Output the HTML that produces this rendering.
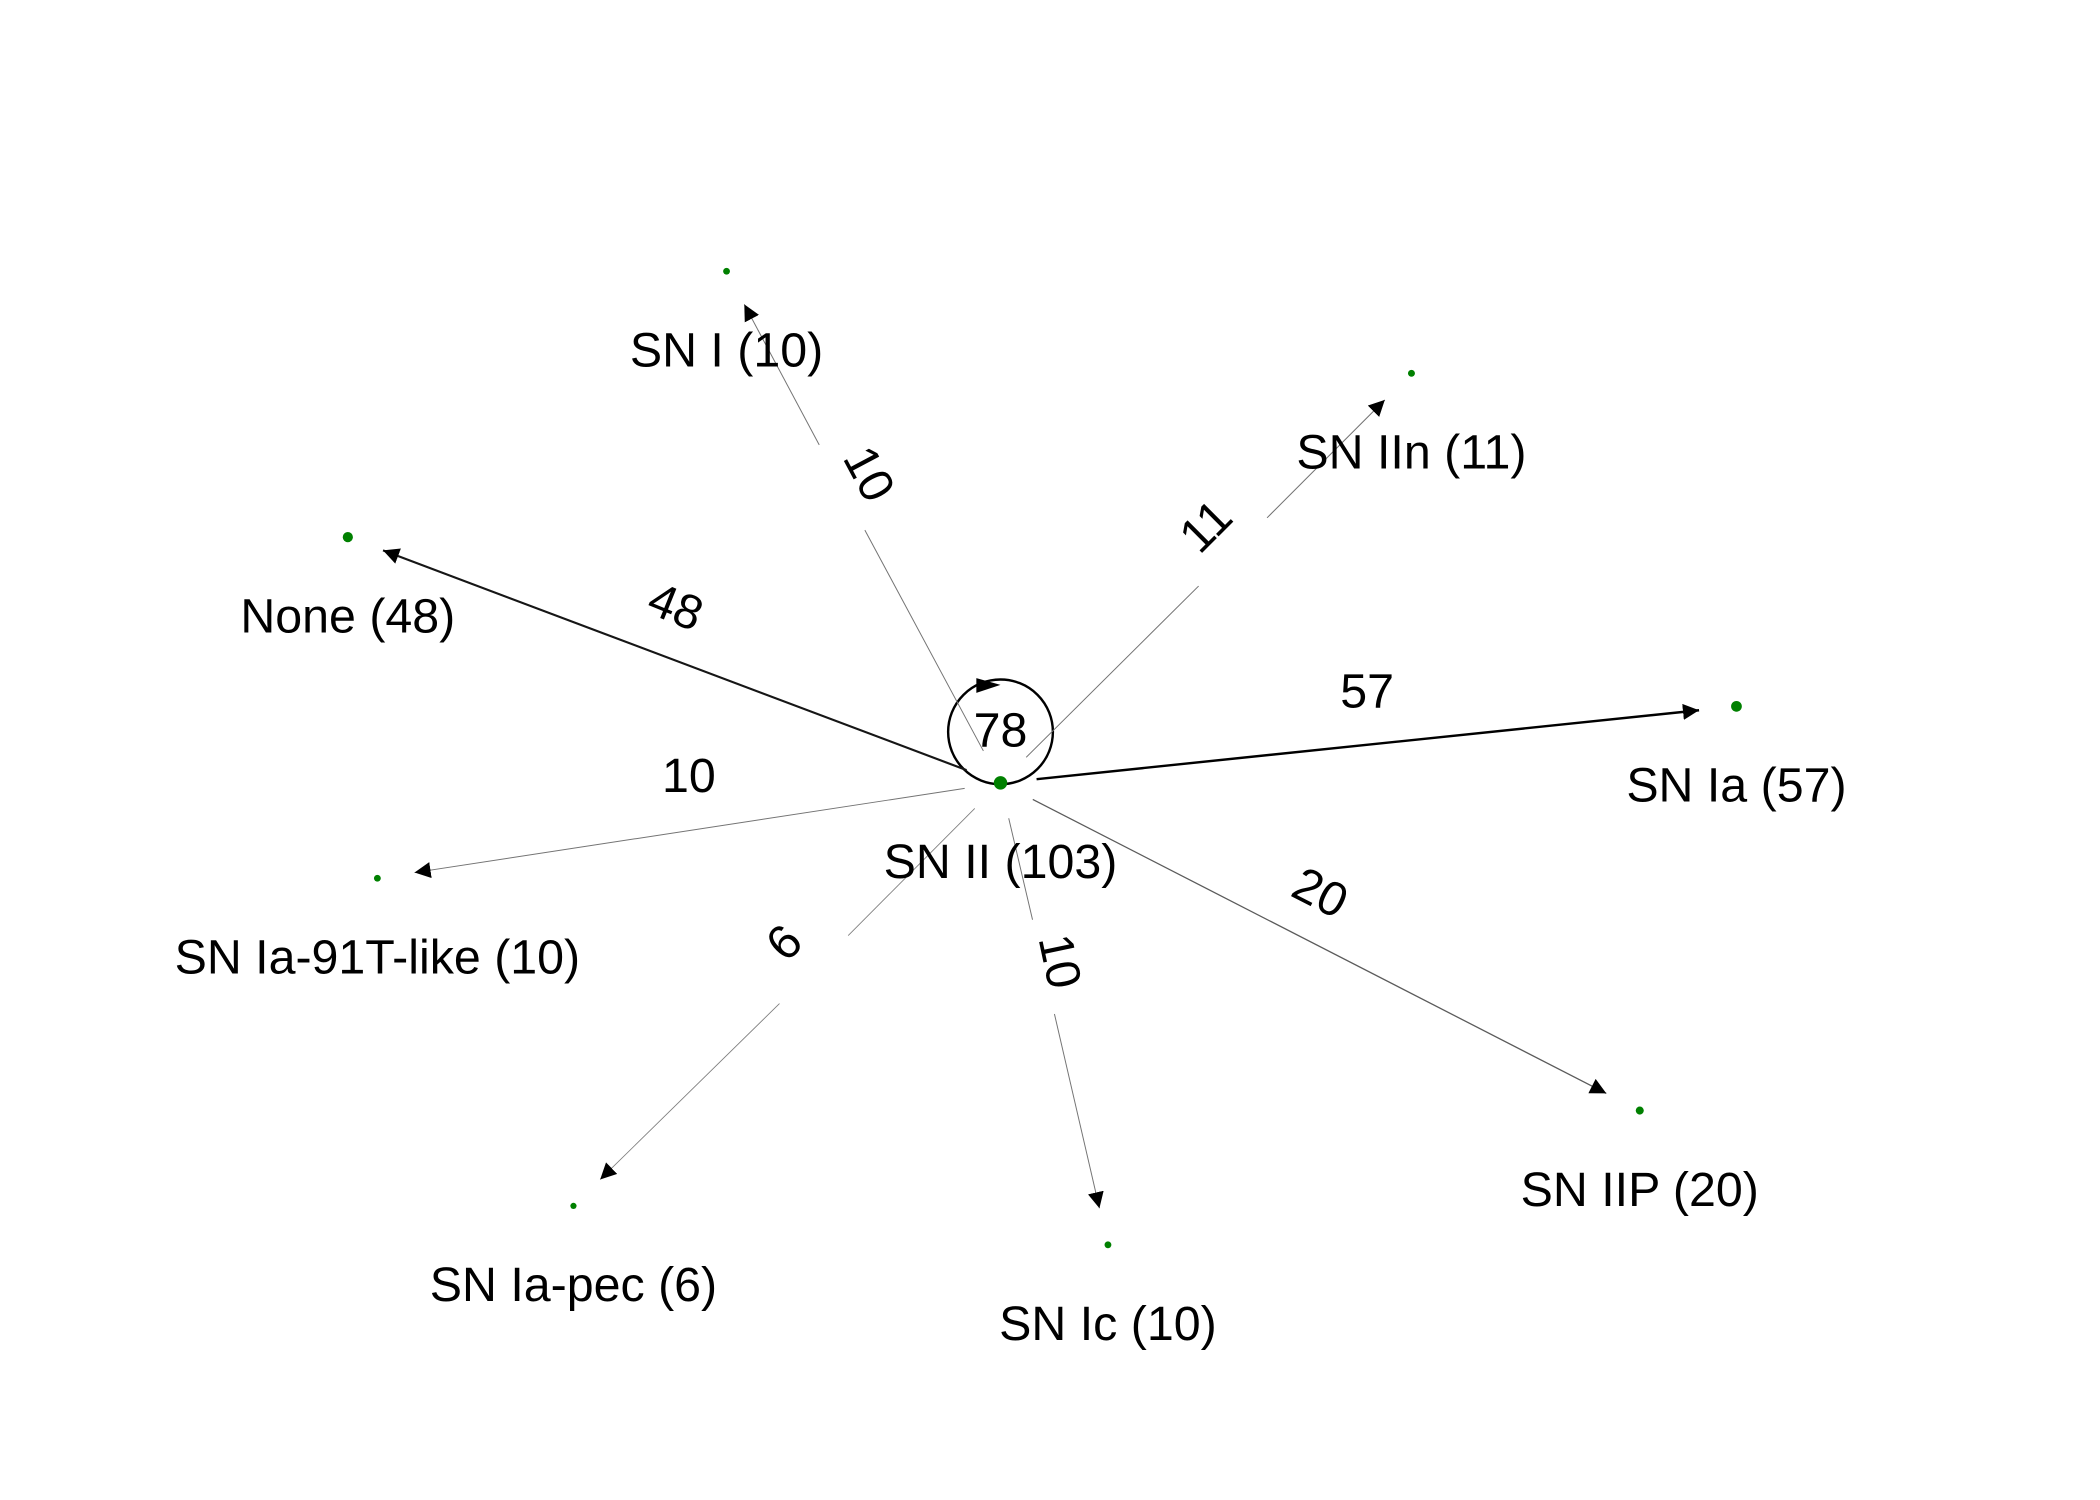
<!DOCTYPE html>
<html><head><meta charset="utf-8"><style>
html,body{margin:0;padding:0;background:#fff}
svg{display:block}
text{font-family:"Liberation Sans",sans-serif;fill:#000}
</style></head><body>
<svg id="chart" width="2100" height="1500" viewBox="0 0 1563.7 1117" preserveAspectRatio="none" xmlns="http://www.w3.org/2000/svg">
<defs>
<marker id="ah" viewBox="0 0 10 10" refX="10" refY="5" markerWidth="12" markerHeight="12" markerUnits="userSpaceOnUse" orient="auto"><path d="M0,0 L10,5 L0,10 z" fill="#000"/></marker>
</defs>
<g id="edges"></g>
<g id="nodes"></g>
</svg>
<script>
const nodeNames = ["SN I","SN IIn","None","SN Ia","SN Ia-91T-like","SN Ia-pec","SN Ic","SN IIP"];
const edgeWeights = [10,11,48,57,10,6,10,20];
const nodeCounts = [10,11,48,57,10,6,10,20];
const centerName = "SN II";
const centerCount = 103;
const selfLoop = 78;
// layout (not data)
const nodeX = [541,1051,259,1293,281,427,825,1221];
const nodeY = [202,278,400,526,654,898,927,827];
const labX = [647,898,503,1018,513,584,789,983];
const labY = [353,392,452,515,578,702,716,665];
const labRot = [62,-45,22,0,0,-45,78,27];
const gapX = [627,918,null,null,null,606,777,null];
const gapY = [363,411,null,null,null,722,720,null];
const cx=745, cy=583;
const NS="http://www.w3.org/2000/svg";
const eg=document.getElementById('edges'), ng=document.getElementById('nodes');
function el(t,a,p){const e=document.createElementNS(NS,t);for(const k in a)e.setAttribute(k,a[k]);p.appendChild(e);return e;}
const loop=el('circle',{cx:cx,cy:cy-38,r:39,fill:'none',stroke:'#000','stroke-width':1.8},eg);


const la=el('path',{d:'M727,505 L745,510 L727,516 z',fill:'#000'},eg);


const lt=el('text',{x:cx,y:cy-27,'font-size':36,'text-anchor':'middle'},eg);
lt.textContent=selfLoop;


const maxW=Math.max(...edgeWeights);
edgeWeights.forEach((w,i)=>{
  const tx=nodeX[i],ty=nodeY[i];
  const dx=tx-cx,dy=ty-cy,L=Math.hypot(dx,dy),ux=dx/L,uy=dy/L;
  const sx=cx+ux*27,sy=cy+uy*27,ex=tx-ux*28,ey=ty-uy*28;
  const sw=0.5+1.3*(w/maxW);
  const g=Math.round(140*(1-w/maxW));
  const col=`rgb(${g},${g},${g})`;
  const nm='edge-'+nodeNames[i].toLowerCase().replace(/[^a-z0-9]+/g,'-');
  if(gapX[i]!==null){
    const gx=gapX[i],gy=gapY[i],h=36;
    const a=el('line',{x1:sx,y1:sy,x2:gx-ux*h,y2:gy-uy*h,stroke:col,'stroke-width':sw},eg);
    
    
    const b=el('line',{x1:gx+ux*h,y1:gy+uy*h,x2:ex,y2:ey,stroke:col,'stroke-width':sw,'marker-end':'url(#ah)'},eg);
    
    
  } else {
    const line=el('line',{x1:sx,y1:sy,x2:ex,y2:ey,stroke:col,'stroke-width':sw,'marker-end':'url(#ah)'},eg);
    
    
  }
  const lx=labX[i],ly=labY[i];
  const txt=el('text',{x:lx,y:ly,'font-size':36,'text-anchor':'middle','dominant-baseline':'central',transform:`rotate(${labRot[i]} ${lx} ${ly})`},eg);
  txt.textContent=w;
  
  
});
function node(x,y,name,count,r){
  const c=el('circle',{cx:x,cy:y,r:r,fill:'#008000'},ng);
  
  
  const t=el('text',{x:x,y:y+71,'font-size':36,'text-anchor':'middle'},ng);
  t.textContent=name+' ('+count+')';
  
  
}
node(cx,cy,centerName,centerCount,5);
nodeNames.forEach((n,i)=>node(nodeX[i],nodeY[i],n,nodeCounts[i],1.5+2.5*Math.sqrt(nodeCounts[i]/maxW)));
</script>
</body></html>
